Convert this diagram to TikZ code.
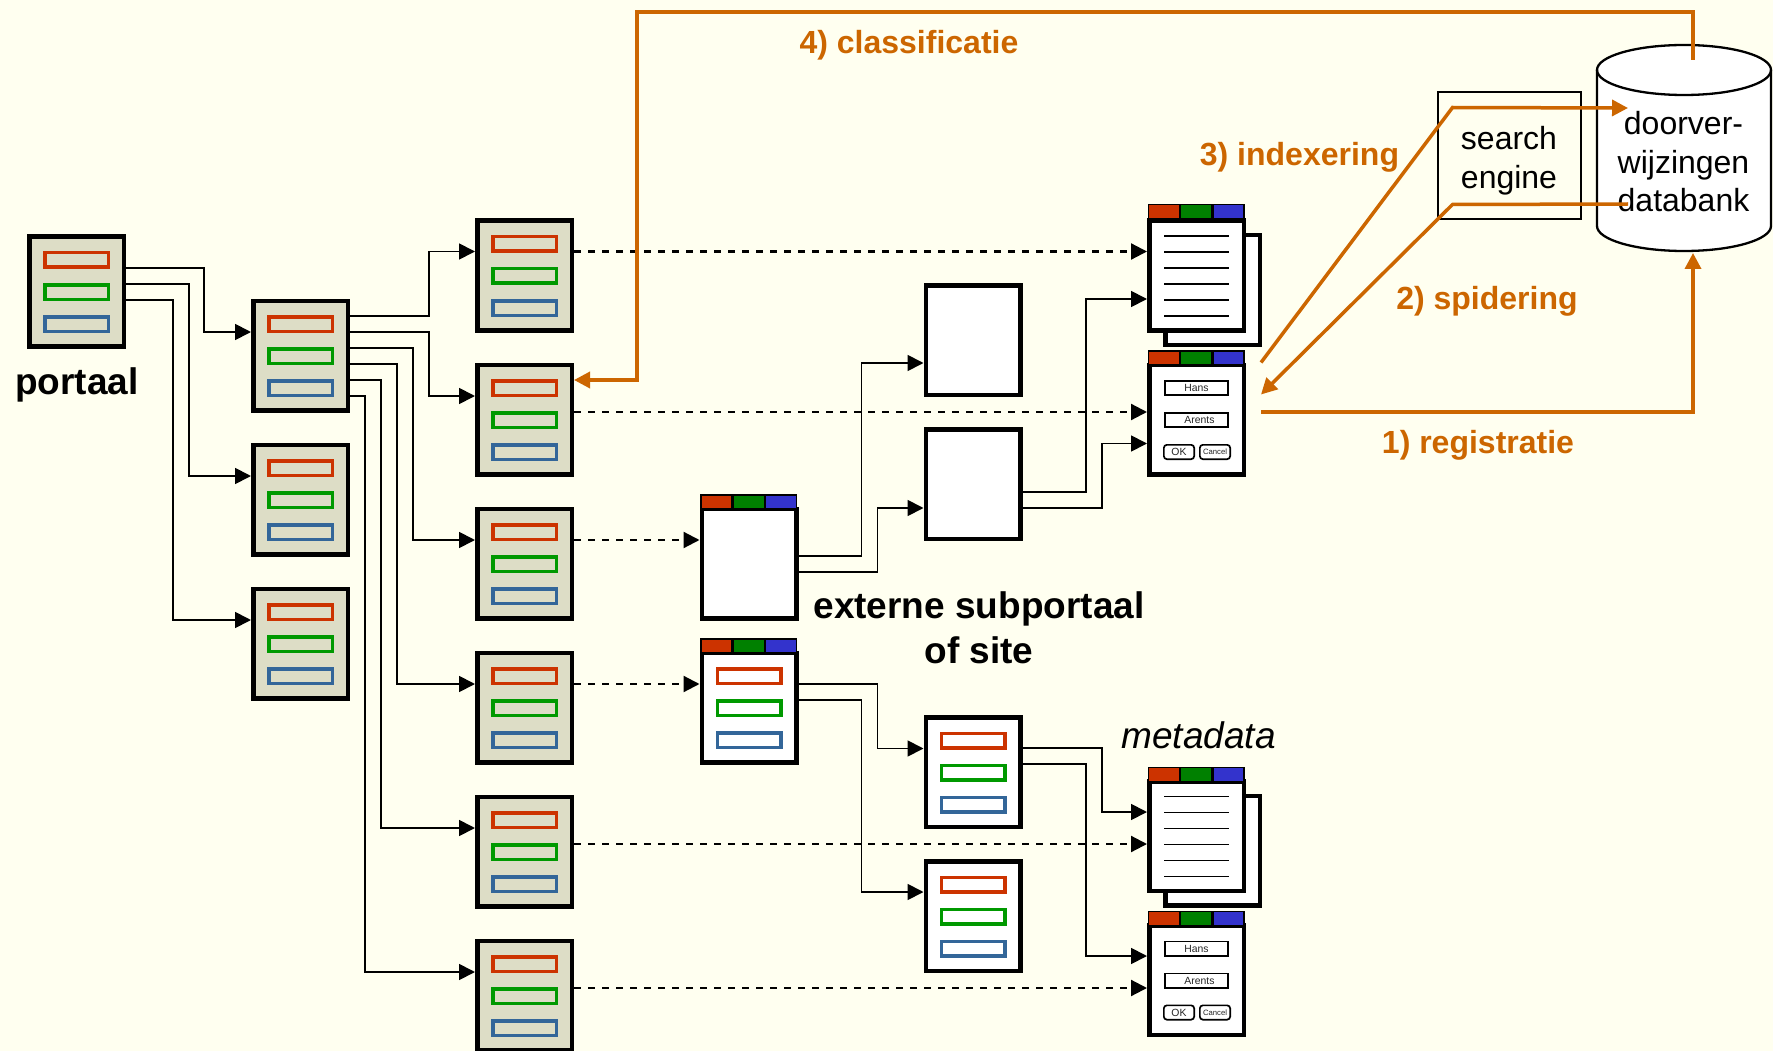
\documentclass[tikz,border=0pt]{standalone}
\usepackage{fontspec}
\setmainfont{Liberation Sans}
\usepackage{tikz}
\usetikzlibrary{calc,arrows.meta}
\definecolor{pagebg}{HTML}{FFFFF0}
\definecolor{boxgrey}{HTML}{DDDDC6}
\definecolor{barred}{HTML}{CC3300}
\definecolor{bargreen}{HTML}{009900}
\definecolor{barblue}{HTML}{336699}
\definecolor{cellgreen}{HTML}{008000}
\definecolor{cellblue}{HTML}{3333CC}
\definecolor{flow}{HTML}{CC6600}

% box with three menu bars
\newcommand{\menuBox}[4]{
\node [pagenode,fill=#4] (#1) at (#2,#3) {};
\node [barnode,draw=barred,fill=#4] (#1r) at ($(#1.north west)+(16,16.5)$) {};
\node [barnode,draw=bargreen,fill=#4] (#1g) at ($(#1.north west)+(16,48.5)$) {};
\node [barnode,draw=barblue,fill=#4] (#1b) at ($(#1.north west)+(16,80.5)$) {};
}
% red, green, blue title bar of a window
\newcommand{\titleBar}[2][-12.5]{
\node [cellnode,fill=barred] (#2tr) at ($(#2.north west)+(0.5,#1)$) {};
\node [cellnode,fill=cellgreen] (#2tg) at ($(#2.north west)+(32.8,#1)$) {};
\node [cellnode,fill=cellblue] (#2tb) at ($(#2.north west)+(65.1,#1)$) {};
}
% document with a second sheet behind it
\newcommand{\docWindow}[4]{
\node [pagenode,fill=white] (#1back) at ($(#2,#3)+(16,14.5)$) {};
\node [pagenode,fill=white] (#1) at (#2,#3) {};
\titleBar[#4]{#1}
\foreach \y in {17.5,33.5,49.5,65.5,81.5,97.5} \draw[textline] ($(#1.north west)+(17,\y)$) -- +(65,0);
}
% form window with two fields and two buttons
\newcommand{\formWindow}[3]{
\node [pagenode,fill=white] (#1) at (#2,#3) {};
\titleBar{#1}
\node [fieldnode] (#1hans) at ($(#1.north west)+(17,17.5)$) {Hans};
\node [fieldnode] (#1arents) at ($(#1.north west)+(17,49.5)$) {\hspace*{6pt}Arents};
\node [buttonnode,font=\fontsize{10.4}{12}\selectfont] (#1ok) at ($(#1.north west)+(16,81.5)$) {OK};
\node [buttonnode,font=\fontsize{7.7}{9}\selectfont] (#1cancel) at ($(#1.north west)+(52,81.5)$) {Cancel};
}

\begin{document}
\begin{tikzpicture}[x=1pt,y=-1pt]

\tikzset{pagenode/.style={shape=rectangle,draw=black,line width=4.5pt,minimum width=94.5pt,minimum height=109.5pt,inner sep=0pt,anchor=north west},
barnode/.style={shape=rectangle,line width=3.5pt,minimum width=63.5pt,minimum height=14.5pt,inner sep=0pt,anchor=north west},
cellnode/.style={shape=rectangle,draw=black,line width=1.5pt,minimum width=31.2pt,minimum height=14pt,inner sep=0pt,anchor=north west},
fieldnode/.style={shape=rectangle,draw=black,fill=white,line width=1.7pt,minimum width=63.3pt,minimum height=14.3pt,inner sep=0pt,anchor=north west,font=\fontsize{10.4}{12}\selectfont,text=black!85},
buttonnode/.style={shape=rectangle,draw=black,fill=white,line width=1.7pt,rounded corners=3pt,minimum width=30.3pt,minimum height=14.3pt,inner sep=0pt,anchor=north west,text=black!85},
textline/.style={line width=1.7pt},
link/.style={line width=1.8pt,-{Triangle[length=16pt,width=16pt]}},
dashlink/.style={line width=2.2pt,dash pattern=on 7pt off 7pt,-{Triangle[length=16pt,width=16pt]}},
flowlink/.style={line width=3.5pt,draw=flow},
flowarrow/.style={flowlink,-{Triangle[length=16pt,width=16pt,fill=flow]}},
flowlabel/.style={anchor=base,text=flow,font=\fontsize{32}{38}\selectfont\bfseries},
boldlabel/.style={anchor=base,font=\fontsize{37}{45}\selectfont\bfseries},
dbtext/.style={anchor=base,font=\fontsize{32}{38}\selectfont}}

\useasboundingbox (0,0) rectangle (1773,1051);
\fill[pagebg] (0,0) rectangle (1773,1051);

% portal boxes
\menuBox{p0}{27}{234.5}{boxgrey}
\menuBox{b1}{251}{298.5}{boxgrey}
\menuBox{b2}{251}{442.5}{boxgrey}
\menuBox{b3}{251}{586.5}{boxgrey}
\menuBox{c1}{475}{218.5}{boxgrey}
\menuBox{c2}{475}{362.5}{boxgrey}
\menuBox{c3}{475}{506.5}{boxgrey}
\menuBox{c4}{475}{650.5}{boxgrey}
\menuBox{c5}{475}{794.5}{boxgrey}
\menuBox{c6}{475}{938.5}{boxgrey}

% external subportal and site
\node [pagenode,fill=white] (w1) at (699.5,506.5) {};
\titleBar{w1}
\node [pagenode,fill=white] (w2) at (699.5,650.5) {};
\titleBar{w2}
\node [barnode,draw=barred,fill=white] (w2r) at ($(w2.north west)+(16,16.5)$) {};
\node [barnode,draw=bargreen,fill=white] (w2g) at ($(w2.north west)+(16,48.5)$) {};
\node [barnode,draw=barblue,fill=white] (w2b) at ($(w2.north west)+(16,80.5)$) {};
\node [pagenode,fill=white] (d1) at (923.5,283) {};
\node [pagenode,fill=white] (d2) at (923.5,427) {};
\menuBox{m1}{923.5}{715}{white}
\menuBox{m2}{923.5}{859}{white}

% documents and forms
\docWindow{doc1}{1147}{218.5}{-14.5}
\formWindow{f1}{1147}{362.5}
\docWindow{doc2}{1147}{779}{-12.5}
\formWindow{f2}{1147}{923}

% search engine and database
\node [shape=rectangle,draw=black,line width=2pt,minimum width=143pt,minimum height=127pt,inner sep=0pt] (search) at (1509,156) {};
\node [dbtext] (searchA) at (1509,150) {search};
\node [dbtext] (searchB) at (1509,189) {engine};
\coordinate (db) at (1684,148);
\draw[line width=2.3pt,fill=white] ($(db)+(-87,-78)$) -- ($(db)+(-87,78)$) arc (180:360:87pt and 25pt) -- ($(db)+(87,-78)$) arc (0:180:87pt and 25pt) -- cycle;
\draw[line width=2.3pt] ($(db)+(-87,-78)$) arc (180:360:87pt and 25pt);
\node [dbtext] (dbA) at (1683.5,134.5) {doorver-};
\node [dbtext] (dbB) at (1683.5,173.5) {wijzingen};
\node [dbtext] (dbC) at (1683.5,212) {databank};

% Edges
\foreach \src/\sy/\dst/\dy/\dx in {p0/33.5/b1/33.5/47,p0/49.5/b2/33.5/62,p0/65.5/b3/33.5/78,
b1/17.5/c1/33/46,b1/33.5/c2/33.5/46,b1/49.5/c3/33.5/62,b1/65.5/c4/33.5/78,b1/81.5/c5/33.5/94,b1/97.5/c6/33.5/110,
w1/49.5/d1/80/62,w1/65.5/d2/81/46,w2/33.5/m1/33.5/46,w2/49.5/m2/33/62,
d2/65/doc1/80.5/61,d2/81/f1/81/45,m1/33/doc2/33/45,m1/49/f2/33/61}
\draw[link] ($(\src.north east)+(0,\sy)$) -| ($(\dst.north west)+(-\dx,\dy)$) -- ($(\dst.north west)+(0,\dy)$);

\foreach \src/\sy/\dst/\dy in {c1/33/doc1/33,c2/49.5/f1/49.5,c3/33.5/w1/33.5,c4/33.5/w2/33.5,c5/49.5/doc2/65,c6/49.5/f2/65}
\draw[dashlink] ($(\src.north east)+(0,\sy)$) -- ($(\dst.north west)+(0,\dy)$);

% numbered steps
\coordinate (classCorner) at (637,12);
\coordinate (dbTop) at ($(db)+(9,-88)$);
\coordinate (ixEnd) at ($(db)+(-56,-40)$);
\coordinate (spStart) at ($(db)+(-56,56)$);
\coordinate (dbIn) at ($(db)+(9,105)$);
\draw[flowarrow] ($(f1.north east)+(15,49.5)$) -| (dbIn);
\draw[flowarrow] (spStart) -- ($(search.south west)+(16,-16)$) -- ($(f1.north east)+(15,32)$);
\draw[flowarrow] ($(f1.north east)+(15,0)$) -- ($(search.north west)+(16,16)$) -- (ixEnd);
\draw[flowarrow] (dbTop) |- (classCorner) |- ($(c2.north east)+(0,17.5)$);

% labels
\node [boldlabel] (portaal) at (77,394) {portaal};
\node [boldlabel] (externe) at (979,618) {externe subportaal};
\node [boldlabel] (ofsite) at (979,663) {of site};
\node [anchor=base,font=\fontsize{37}{45}\selectfont\itshape] (metadata) at (1198.5,748) {metadata};
\node [flowlabel] (step1) at (1478,453.5) {1) registratie};
\node [flowlabel] (step2) at (1487,309) {2) spidering};
\node [flowlabel] (step3) at (1299.5,166) {3) indexering};
\node [flowlabel] (step4) at (909,54) {4) classificatie};

\end{tikzpicture}
\end{document}
